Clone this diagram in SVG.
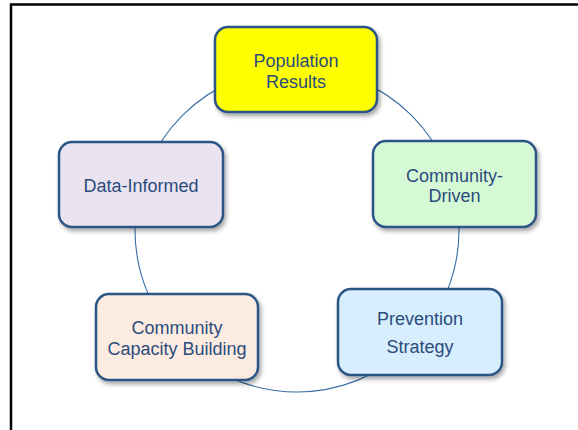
<svg xmlns="http://www.w3.org/2000/svg" width="578" height="430" viewBox="0 0 578 430">
  <defs>
    <filter id="sh" x="-10%" y="-10%" width="125%" height="130%">
      <feDropShadow dx="2" dy="3" stdDeviation="2" flood-color="#000" flood-opacity="0.35"/>
    </filter>
  </defs>
  <style>
    .box { stroke: #2C5485; stroke-width: 2.5; filter: url(#sh); }
    .lbl { font-family: "Liberation Sans", Arial, sans-serif; font-size: 18px; fill: #2B4B7C; text-anchor: middle; }
    .conn { fill: none; stroke: #3A6EA5; stroke-width: 1.1; }
    .frame { fill: none; stroke: #000; stroke-width: 2.5; }
  </style>
  <rect x="0" y="0" width="578" height="430" fill="#fff"/>
  <path class="frame" d="M11,430 V4.5 H578"/>
  <g id="connectors">
    <circle class="conn" cx="297" cy="230" r="162"/>
  </g>
  <g id="population-results">
    <rect class="box" x="215" y="27" width="162" height="85" rx="13" fill="#FFFF00"/>
    <text class="lbl" x="296" y="66.5">Population</text>
    <text class="lbl" x="296" y="88">Results</text>
  </g>
  <g id="community-driven">
    <rect class="box" x="373" y="141" width="163" height="86" rx="13" fill="#D5F9D5"/>
    <text class="lbl" x="454.5" y="181.5">Community-</text>
    <text class="lbl" x="454.5" y="202">Driven</text>
  </g>
  <g id="prevention-strategy">
    <rect class="box" x="338" y="289" width="164" height="86" rx="13" fill="#D6EEFD"/>
    <text class="lbl" x="420" y="325">Prevention</text>
    <text class="lbl" x="420" y="353">Strategy</text>
  </g>
  <g id="capacity-building">
    <rect class="box" x="96" y="294" width="162" height="86" rx="13" fill="#FCEBE0"/>
    <text class="lbl" x="177" y="334">Community</text>
    <text class="lbl" x="177" y="354.5">Capacity Building</text>
  </g>
  <g id="data-informed">
    <rect class="box" x="59" y="142" width="164" height="85" rx="13" fill="#EAE4F1"/>
    <text class="lbl" x="141" y="191.5">Data-Informed</text>
  </g>
</svg>
